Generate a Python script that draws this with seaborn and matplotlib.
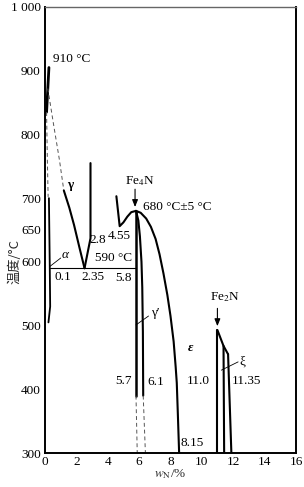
import matplotlib
matplotlib.use('Agg')
import matplotlib.pyplot as plt
import seaborn as sns
import pandas as pd

# ---------------- data (w_N in %, temperature in °C) ----------------
alpha_top_x = [0.25, 0.10]
alpha_top_t = [905, 835]
alpha_dash_x = [0.10, 0.15, 0.20]
alpha_dash_t = [835, 760, 702]
gamma_dash_x = [0.18, 0.55, 0.92, 1.20]
gamma_dash_t = [872, 815, 760, 712]
alpha_x = [0.25, 0.30, 0.33, 0.22]
alpha_t = [700, 600, 530, 505]
gamma_left_x = [1.20, 1.55, 1.85, 2.20, 2.52]
gamma_left_t = [712, 685, 658, 622, 590]
gamma_right_x = [2.52, 2.90, 2.90]
gamma_right_t = [590, 637, 755]
eutectoid_x = [0.30, 5.80]
eutectoid_t = [590, 590]
eps_left_x = [4.55, 4.76, 5.00, 5.25, 5.50, 5.80]
eps_left_t = [703, 656, 662, 671, 678, 680]
gp_left_x = [5.80, 5.80]
gp_left_t = [680, 390]
gp_left_dash_x = [5.80, 5.88]
gp_left_dash_t = [390, 300]
gp_right_x = [5.80, 5.95, 6.05, 6.15, 6.20, 6.24, 6.26]
gp_right_t = [680, 665, 640, 600, 560, 490, 390]
gp_right_dash_x = [6.26, 6.40]
gp_right_dash_t = [390, 300]
eps_right_x = [5.80, 6.10, 6.45, 6.75, 7.05, 7.30, 7.55, 7.80, 8.00, 8.20, 8.33, 8.40, 8.47, 8.55]
eps_right_t = [680, 677, 668, 655, 636, 612, 582, 548, 515, 475, 435, 410, 360, 300]
xi_left_x = [10.99, 10.99]
xi_left_t = [300, 493]
xi_top_x = [10.99, 11.38, 11.67]
xi_top_t = [493, 468, 455]
xi_mid_x = [11.38, 11.42]
xi_mid_t = [468, 300]
xi_right_x = [11.67, 11.88]
xi_right_t = [455, 300]

# leader lines for labels
alpha_lead_x = [0.32, 1.00]
alpha_lead_t = [593, 606]
gp_lead_x = [5.80, 6.60]
gp_lead_t = [501, 515]
xi_lead_x = [11.24, 12.31]
xi_lead_t = [430, 443]

# arrows (x, t_start, t_end)
fe4n_arrow = (5.74, 714, 686)
fe2n_arrow = (10.99, 527, 499)

y_ticks = [300, 400, 500, 600, 650, 700, 800, 900, 1000]
y_tick_labels = ['300', '400', '500', '600', '650', '700', '800', '900', '1 000']
x_ticks = [0, 2, 4, 6, 8, 10, 12, 14, 16]

# text labels: text, x, t, ha, weight, style
labels = [
    ('910 °C', 0.51, 918, 'left', 'normal', 'normal'),
    ('γ', 1.60, 721, 'center', 'bold', 'normal'),
    ('α', 1.30, 610, 'center', 'normal', 'italic'),
    ('0.1', 1.12, 576, 'center', 'normal', 'normal'),
    ('2.35', 3.08, 576, 'center', 'normal', 'normal'),
    ('5.8', 5.00, 575, 'center', 'normal', 'normal'),
    ('590 °C', 4.36, 606, 'center', 'normal', 'normal'),
    ('2.8', 3.37, 634, 'center', 'normal', 'normal'),
    ('4.55', 4.71, 640, 'center', 'normal', 'normal'),
    ('Fe$_4$N', 6.03, 727, 'center', 'normal', 'normal'),
    ('680 °C±5 °C', 6.22, 686, 'left', 'normal', 'normal'),
    ('γ′', 7.05, 520, 'center', 'normal', 'normal'),
    ('ε', 9.30, 465, 'center', 'bold', 'italic'),
    ('5.7', 5.00, 413, 'center', 'normal', 'normal'),
    ('6.1', 7.05, 412, 'center', 'normal', 'normal'),
    ('11.0', 9.80, 413, 'center', 'normal', 'normal'),
    ('11.35', 12.82, 413, 'center', 'normal', 'normal'),
    ('8.15', 9.36, 316, 'center', 'normal', 'normal'),
    ('Fe$_2$N', 11.47, 545, 'center', 'normal', 'normal'),
    ('ξ', 12.60, 443, 'center', 'normal', 'normal'),
]

# ---------------- style ----------------
sns.set_theme(style='white')
plt.rcParams['font.family'] = ['Liberation Serif', 'Noto Sans CJK SC', 'DejaVu Sans']
plt.rcParams['mathtext.fontset'] = 'stix'
plt.rcParams['font.size'] = 9.5

fig = plt.figure(figsize=(3.04, 4.87), dpi=100)
ax = fig.add_axes([45 / 304, 34 / 487, 251 / 304, 446 / 487])

def line(x, t, lw=1.5, ls='-', color='black'):
    df = pd.DataFrame({'x': x, 't': t})
    sns.lineplot(data=df, x='x', y='t', sort=False, estimator=None, ax=ax,
                 color=color, linewidth=lw, linestyle=ls)

dash = (0, (4, 3))
line(alpha_top_x, alpha_top_t, lw=2.0)
line(alpha_dash_x, alpha_dash_t, lw=0.7, ls=dash, color='#555555')
line(gamma_dash_x, gamma_dash_t, lw=0.7, ls=dash, color='#555555')
line(alpha_x, alpha_t, lw=1.3)
line(gamma_left_x, gamma_left_t, lw=1.5)
line(gamma_right_x, gamma_right_t, lw=1.5)
line(eutectoid_x, eutectoid_t, lw=0.8)
line(eps_left_x, eps_left_t, lw=1.5)
line(gp_left_x, gp_left_t, lw=1.8)
line(gp_left_dash_x, gp_left_dash_t, lw=0.7, ls=dash, color='#555555')
line(gp_right_x, gp_right_t, lw=1.5)
line(gp_right_dash_x, gp_right_dash_t, lw=0.7, ls=dash, color='#555555')
line(eps_right_x, eps_right_t, lw=1.5)
line(xi_left_x, xi_left_t, lw=1.5)
line(xi_top_x, xi_top_t, lw=1.5)
line(xi_mid_x, xi_mid_t, lw=1.5)
line(xi_right_x, xi_right_t, lw=1.5)
line(alpha_lead_x, alpha_lead_t, lw=0.6)
line(gp_lead_x, gp_lead_t, lw=0.6)
line(xi_lead_x, xi_lead_t, lw=0.6)

for xa, t0, t1 in (fe4n_arrow, fe2n_arrow):
    ax.annotate('', xy=(xa, t1), xytext=(xa, t0),
                arrowprops=dict(arrowstyle='-|>,head_length=0.45,head_width=0.18',
                                color='black', lw=0.8, shrinkA=0, shrinkB=0))

for txt, x, t, ha, w, st in labels:
    ax.text(x, t, txt, ha=ha, va='center', fontsize=9.5, fontweight=w,
            fontstyle=st, color='black')

ax.set_xlim(0, 16)
ax.set_ylim(300, 1000)
ax.set_xticks(x_ticks)
ax.set_xticklabels([str(v) for v in x_ticks])
ax.set_yticks(y_ticks)
ax.set_yticklabels(y_tick_labels)
ax.tick_params(axis='both', direction='in', length=3.5, width=0.8,
               labelsize=9.5, pad=3, colors='black')
ax.tick_params(axis='x', pad=2.5)
ax.set_xlabel('$w_\\mathrm{N}$/%', fontsize=9.5, labelpad=-1)
ax.set_ylabel('')
fig.text(15 / 304, 1 - 262 / 487, '温度/°C', rotation=90, ha='center', va='center',
         fontsize=9.5, family=['Noto Sans CJK SC', 'DejaVu Sans'])

for side in ['left', 'bottom', 'right']:
    ax.spines[side].set_linewidth(1.4)
    ax.spines[side].set_color('black')
ax.spines['top'].set_linewidth(1.0)
ax.spines['top'].set_color('#666666')
ax.grid(False)

fig.savefig('out.png', dpi=100)
